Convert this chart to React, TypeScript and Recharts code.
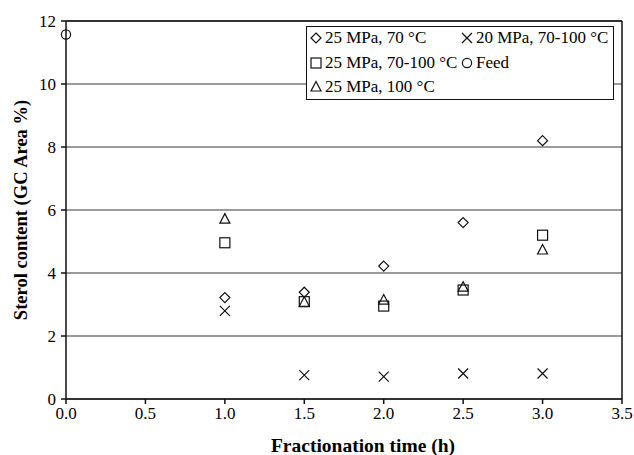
import React from "react";
import {
  ScatterChart,
  Scatter,
  XAxis,
  YAxis,
  CartesianGrid,
  ReferenceLine,
  Label,
} from "recharts";

// fractionation time (h)
const hours = [1.0, 1.5, 2.0, 2.5, 3.0];

// sterol content, GC area %
const mpa25at70 = [3.22, 3.39, 4.22, 5.6, 8.2];
const mpa25at70to100 = [4.96, 3.09, 2.95, 3.46, 5.2];
const mpa25at100 = [5.71, 3.07, 3.14, 3.55, 4.73];
const mpa20at70to100 = [2.8, 0.76, 0.71, 0.81, 0.81];

const feedHours = [0.0];
const feedValues = [11.57];

const xTicks = [0, 0.5, 1.0, 1.5, 2.0, 2.5, 3.0, 3.5];
const yTicks = [0, 2, 4, 6, 8, 10, 12];

type Kind = "diamond" | "square" | "triangle" | "cross" | "circle";

const toPoints = (xs: number[], ys: number[]) =>
  xs.map((x, i) => ({ x, y: ys[i] }));

const series: { name: string; kind: Kind; data: { x: number; y: number }[] }[] = [
  { name: "25 MPa, 70 °C", kind: "diamond", data: toPoints(hours, mpa25at70) },
  { name: "25 MPa, 70-100 °C", kind: "square", data: toPoints(hours, mpa25at70to100) },
  { name: "25 MPa, 100 °C", kind: "triangle", data: toPoints(hours, mpa25at100) },
  { name: "20 MPa, 70-100 °C", kind: "cross", data: toPoints(hours, mpa20at70to100) },
  { name: "Feed", kind: "circle", data: toPoints(feedHours, feedValues) },
];

const FONT = "'Liberation Serif', 'Times New Roman', serif";
const INK = "#111";

function Marker({ kind, cx, cy }: { kind: Kind; cx: number; cy: number }) {
  const common = { fill: "none", stroke: INK, strokeWidth: 1.2 };
  switch (kind) {
    case "diamond":
      return (
        <polygon
          points={`${cx},${cy - 5} ${cx + 5},${cy} ${cx},${cy + 5} ${cx - 5},${cy}`}
          {...common}
        />
      );
    case "square":
      return <rect x={cx - 5} y={cy - 5} width={10} height={10} {...common} />;
    case "triangle":
      return (
        <polygon
          points={`${cx},${cy - 5.5} ${cx + 5},${cy + 4} ${cx - 5},${cy + 4}`}
          {...common}
        />
      );
    case "cross":
      return (
        <path
          d={`M${cx - 5},${cy - 5}L${cx + 5},${cy + 5}M${cx + 5},${cy - 5}L${cx - 5},${cy + 5}`}
          {...common}
        />
      );
    default:
      return <circle cx={cx} cy={cy} r={4.6} {...common} />;
  }
}

function LegendBox() {
  // two columns, filled top to bottom
  const slots = [
    { col: 0, row: 0 },
    { col: 0, row: 1 },
    { col: 0, row: 2 },
    { col: 1, row: 0 },
    { col: 1, row: 1 },
  ];
  return (
    <div
      style={{
        position: "absolute",
        left: 306,
        top: 26,
        width: 308,
        height: 74,
        border: `1.5px solid ${INK}`,
        background: "#fff",
        fontFamily: FONT,
        fontSize: 17,
        color: "#000",
        boxSizing: "border-box",
      }}
    >
      {series.map((s, i) => {
        const { col, row } = slots[i];
        return (
          <div
            key={s.name}
            style={{
              position: "absolute",
              left: col === 0 ? 2 : 153,
              top: 1 + row * 24.5,
              display: "flex",
              alignItems: "center",
              whiteSpace: "nowrap",
              height: 20,
            }}
          >
            <svg width={14} height={14} style={{ marginRight: 2 }}>
              <Marker kind={s.kind} cx={7} cy={7} />
            </svg>
            <span>{s.name}</span>
          </div>
        );
      })}
    </div>
  );
}

export default function App() {
  return (
    <div style={{ position: "absolute", left: 0, top: 0, width: 634, height: 455, background: "#fff" }}>
      <ScatterChart
        width={634}
        height={455}
        margin={{ top: 21, right: 12, left: 0, bottom: 0 }}
      >
        <CartesianGrid vertical={false} stroke="#7a7a7a" strokeWidth={1.4} />
        <XAxis
          type="number"
          dataKey="x"
          domain={[0, 3.5]}
          ticks={xTicks}
          tickFormatter={(v: number) => v.toFixed(1)}
          height={56}
          tickSize={5}
          tickMargin={3}
          stroke={INK}
          strokeWidth={1.5}
          tick={{ fill: "#000", fontSize: 17, fontFamily: FONT }}
        >
          <Label
            value="Fractionation time (h)"
            position="insideBottom"
            offset={3}
            dx={19}
            style={{ fill: "#000", fontSize: 19.5, fontWeight: "bold", fontFamily: FONT }}
          />
        </XAxis>
        <YAxis
          type="number"
          dataKey="y"
          domain={[0, 12]}
          ticks={yTicks}
          width={66}
          tickSize={5}
          tickMargin={5}
          stroke={INK}
          strokeWidth={1.5}
          tick={{ fill: "#000", fontSize: 17, fontFamily: FONT }}
        >
          <Label
            content={({ viewBox }: any) => {
              const cx = viewBox.x + 20.5;
              const cy = viewBox.y + viewBox.height / 2;
              return (
                <text
                  x={cx}
                  y={cy}
                  transform={`rotate(-90, ${cx}, ${cy})`}
                  textAnchor="middle"
                  dominantBaseline="central"
                  style={{ fill: "#000", fontSize: 18.5, fontWeight: "bold", fontFamily: FONT }}
                >
                  Sterol content (GC Area %)
                </text>
              );
            }}
          />
        </YAxis>
        <ReferenceLine y={12} stroke={INK} strokeWidth={1.5} />
        <ReferenceLine x={3.5} stroke={INK} strokeWidth={1.5} />
        {series.map((s) => (
          <Scatter
            key={s.name}
            name={s.name}
            data={s.data}
            isAnimationActive={false}
            shape={(p: any) => <Marker kind={s.kind} cx={p.cx} cy={p.cy} />}
          />
        ))}
      </ScatterChart>
      <LegendBox />
    </div>
  );
}
